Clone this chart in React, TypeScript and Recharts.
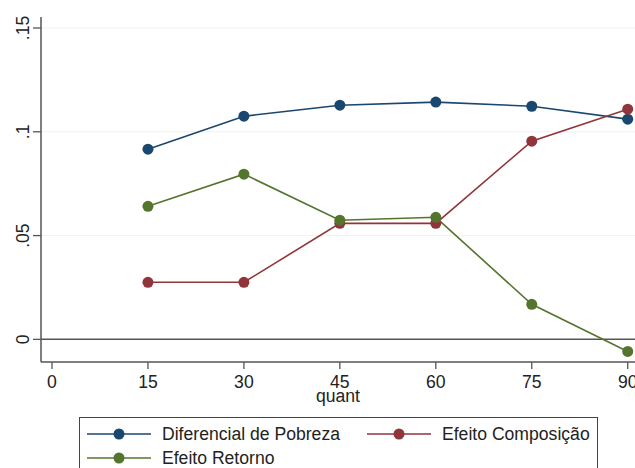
import React from 'react';
import { LineChart, Line, XAxis, YAxis, ReferenceLine, Legend } from 'recharts';

const quants = [15, 30, 45, 60, 75, 90];
const diferencialPobreza = [0.0916, 0.1075, 0.1128, 0.1143, 0.1123, 0.1061];
const efeitoComposicao = [0.0275, 0.0275, 0.0559, 0.0559, 0.0955, 0.1109];
const efeitoRetorno = [0.0641, 0.0796, 0.0574, 0.0588, 0.0169, -0.0058];

const xTicks = [0, 15, 30, 45, 60, 75, 90];
const yTicks = [0, 0.05, 0.1, 0.15];
const yTickLabels = ['0', '.05', '.1', '.15'];
const gridValues = [0.05, 0.1, 0.15];

const seriesNames = ['Diferencial de Pobreza', 'Efeito Composição', 'Efeito Retorno'];
const BLUE = '#1a476f';
const RED = '#90353b';
const GREEN = '#55752f';
const FONT = '"Liberation Sans", Arial, sans-serif';
const FS = 17.6;

const data = quants.map((q, i) => ({
  q,
  dif: diferencialPobreza[i],
  comp: efeitoComposicao[i],
  ret: efeitoRetorno[i],
}));

const YTick = (props: any) => {
  const { y, payload } = props;
  const idx = yTicks.indexOf(payload.value);
  const label = idx >= 0 ? yTickLabels[idx] : String(payload.value);
  return (
    <text
      x={0}
      y={0}
      transform={`translate(23, ${y}) rotate(-90)`}
      textAnchor="middle"
      dominantBaseline="central"
      fontFamily={FONT}
      fontSize={FS}
      fill="#222"
    >
      {label}
    </text>
  );
};

const XTick = (props: any) => {
  const { x, y, payload } = props;
  return (
    <text x={x} y={y} dy={17} textAnchor="middle" fontFamily={FONT} fontSize={FS} fill="#222">
      {payload.value}
    </text>
  );
};

const LegendItem = ({ x, y, color, label }: { x: number; y: number; color: string; label: string }) => (
  <g>
    <line x1={x} y1={y} x2={x + 64} y2={y} stroke={color} strokeWidth={1.6} />
    <circle cx={x + 32} cy={y} r={5.5} fill={color} />
    <text x={x + 75} y={y} dominantBaseline="central" fontFamily={FONT} fontSize={FS} fill="#222">
      {label}
    </text>
  </g>
);

const LegendContent = () => (
  <div
    style={{
      width: 519,
      height: 51,
      borderTop: '1px solid #444',
      borderLeft: '1px solid #444',
      borderRight: '1px solid #444',
      boxSizing: 'border-box',
      background: '#fff',
      overflow: 'hidden',
    }}
  >
    <svg width={519} height={51} style={{ display: 'block', marginTop: -1, marginLeft: -1 }}>
      <LegendItem x={8} y={17} color={BLUE} label={seriesNames[0]} />
      <LegendItem x={288} y={17} color={RED} label={seriesNames[1]} />
      <LegendItem x={8} y={41} color={GREEN} label={seriesNames[2]} />
    </svg>
  </div>
);

export default function App() {
  return (
    <div style={{ position: 'absolute', left: 0, top: 0, width: 635, height: 468, overflow: 'hidden', background: '#fff' }}>
      <LineChart width={635} height={468} data={data} margin={{ top: 17, right: 0, bottom: 0, left: 0 }}>
        {gridValues.map((v) => (
          <ReferenceLine key={v} y={v} stroke="#edf2f3" strokeWidth={1} />
        ))}
        <ReferenceLine y={0} stroke="#555" strokeWidth={1.5} />
        <XAxis
          dataKey="q"
          type="number"
          domain={[-1.72, 91.14]}
          allowDataOverflow
          ticks={xTicks}
          interval={0}
          height={106}
          tickSize={7}
          tickLine={{ stroke: '#555', strokeWidth: 1.3 }}
          axisLine={{ stroke: '#555', strokeWidth: 1.5 }}
          tick={<XTick />}
          label={{ value: 'quant', position: 'insideTop', offset: 28, fontSize: FS, fill: '#222', fontFamily: FONT }}
        />
        <YAxis
          type="number"
          domain={[-0.0109, 0.1553]}
          allowDataOverflow
          ticks={yTicks}
          interval={0}
          width={41}
          tickSize={8}
          tickLine={{ stroke: '#555', strokeWidth: 1.3 }}
          axisLine={{ stroke: '#555', strokeWidth: 1.5 }}
          tick={<YTick />}
        />
        <Legend
          layout="vertical"
          align="center"
          verticalAlign="middle"
          wrapperStyle={{ left: 79, top: 417, width: 519, height: 51, margin: 0, padding: 0 }}
          content={<LegendContent />}
        />
        <Line dataKey="dif" name={seriesNames[0]} stroke={BLUE} strokeWidth={1.6} dot={{ r: 5.5, fill: BLUE, stroke: 'none' }} isAnimationActive={false} />
        <Line dataKey="comp" name={seriesNames[1]} stroke={RED} strokeWidth={1.6} dot={{ r: 5.5, fill: RED, stroke: 'none' }} isAnimationActive={false} />
        <Line dataKey="ret" name={seriesNames[2]} stroke={GREEN} strokeWidth={1.6} dot={{ r: 5.5, fill: GREEN, stroke: 'none' }} isAnimationActive={false} />
      </LineChart>
    </div>
  );
}
